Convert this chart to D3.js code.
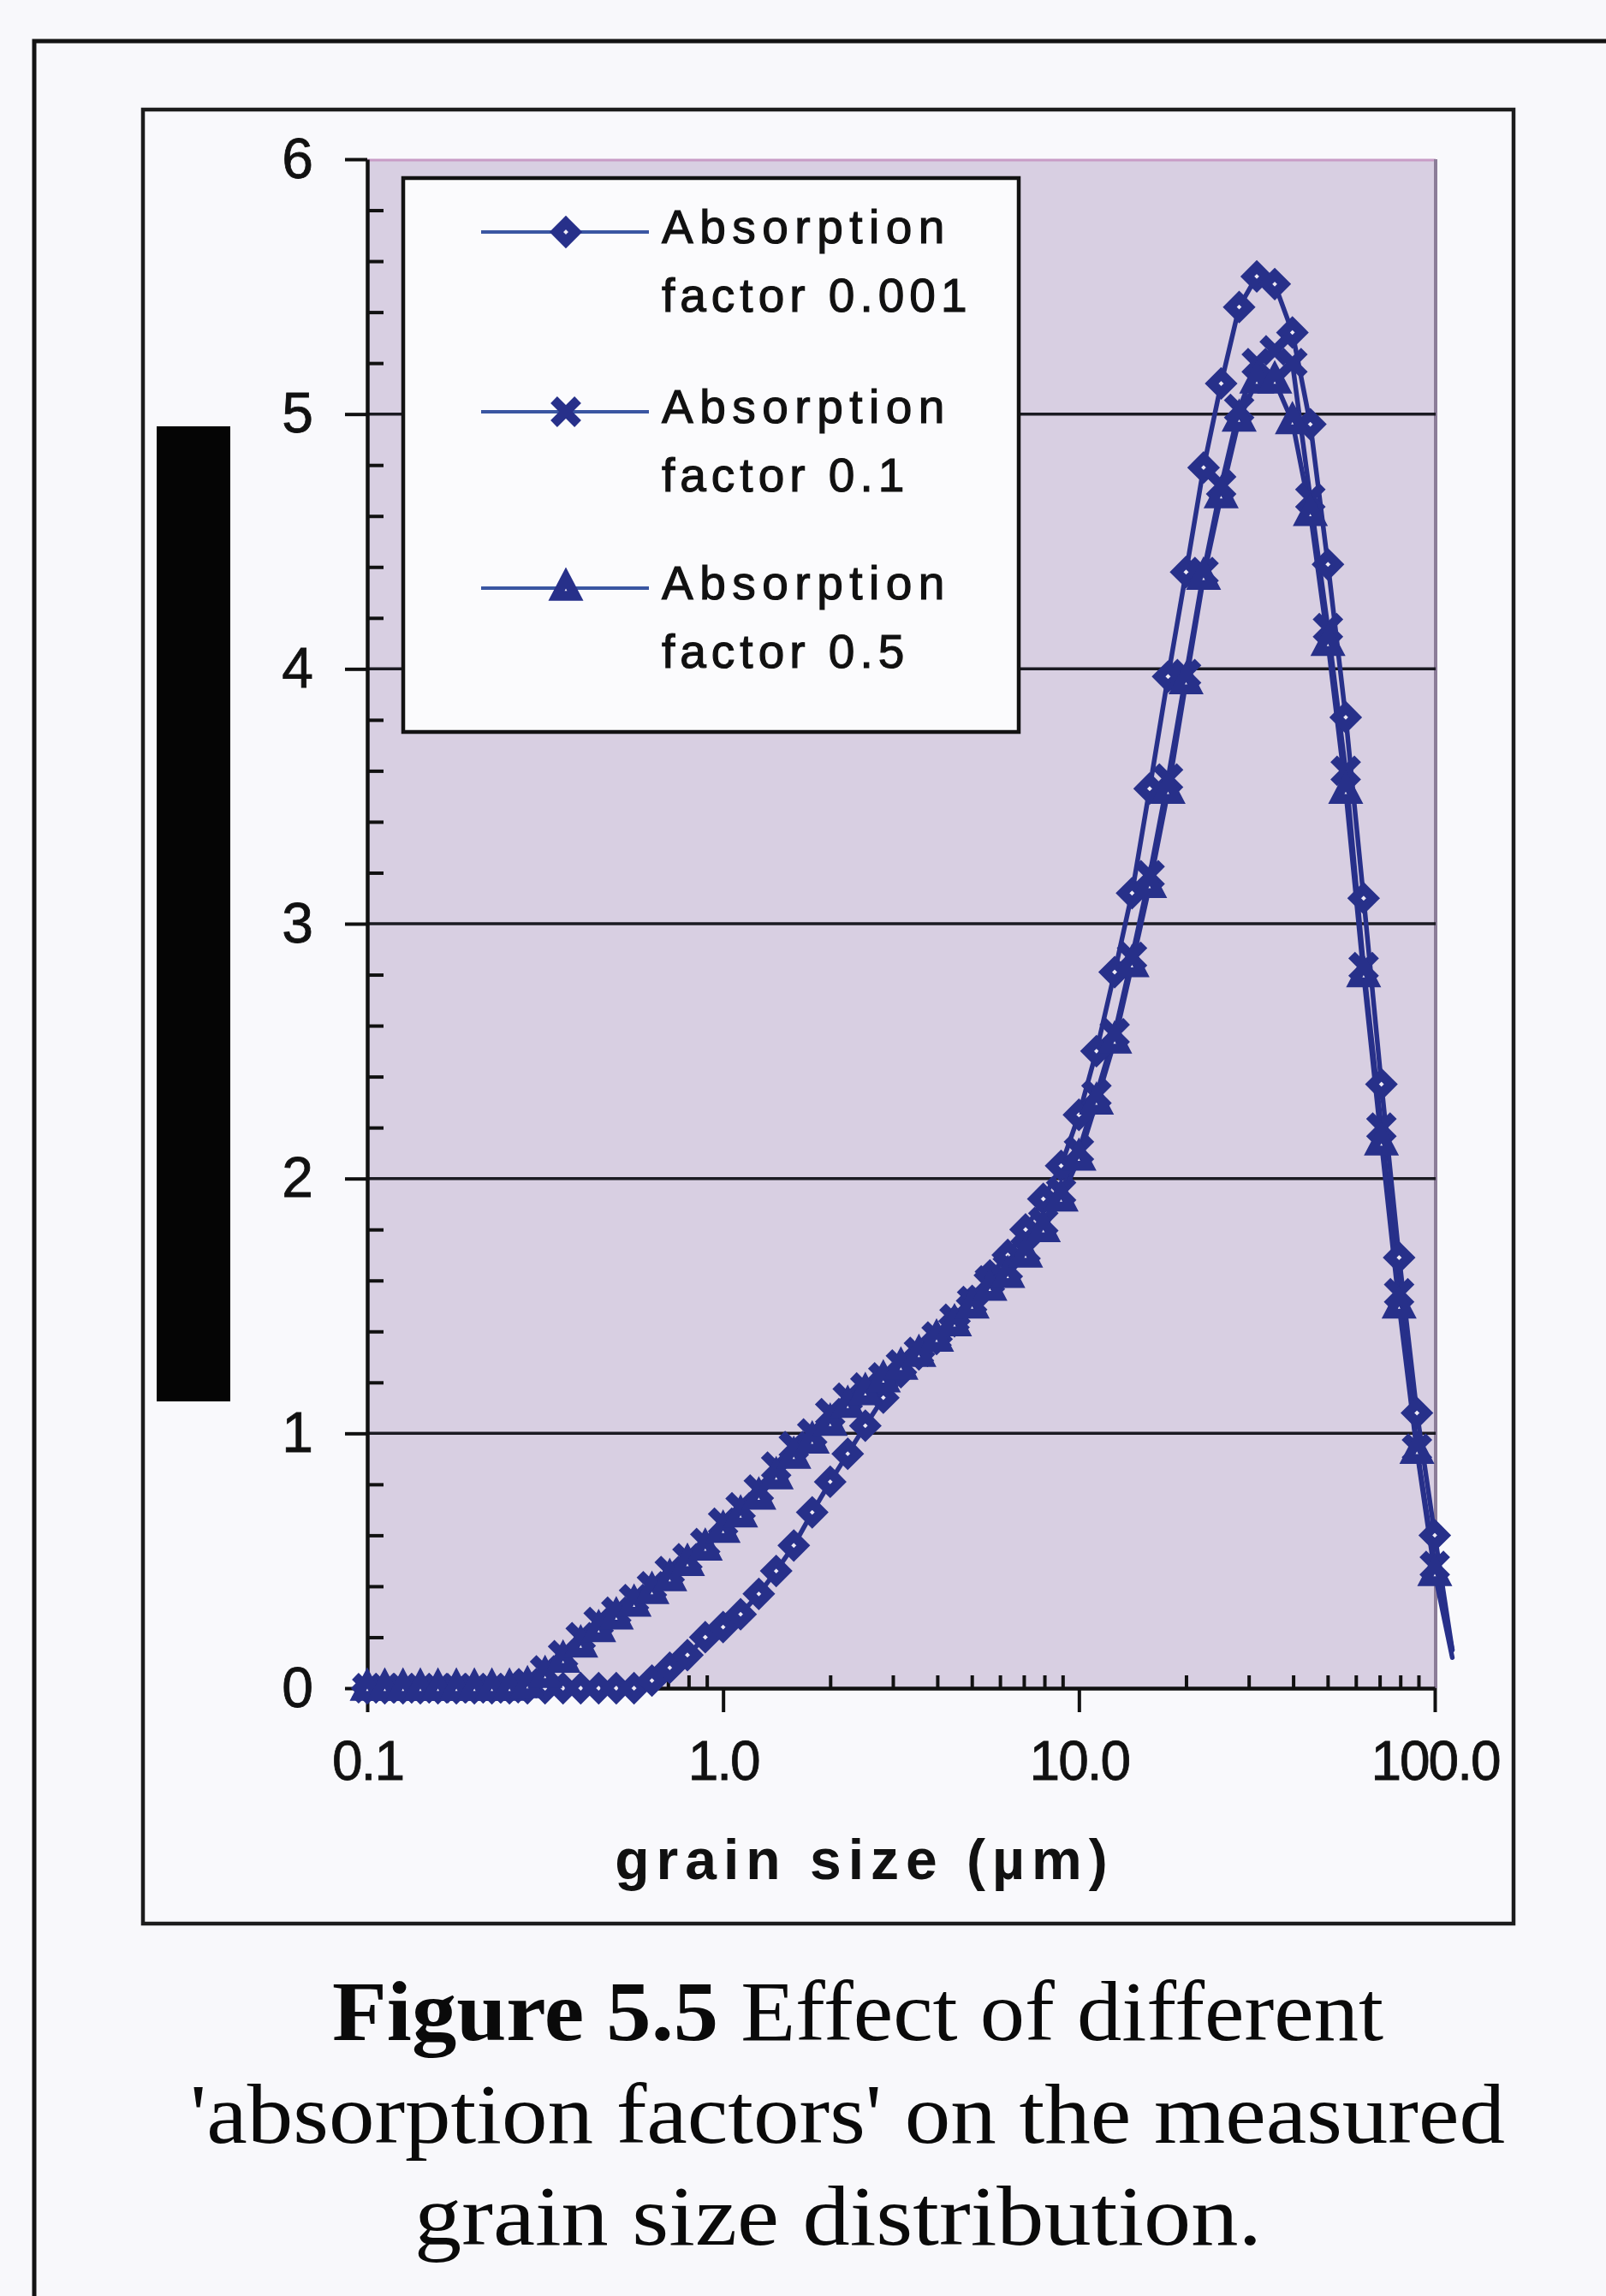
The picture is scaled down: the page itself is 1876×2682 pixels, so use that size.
<!DOCTYPE html>
<html>
<head>
<meta charset="utf-8">
<script src="https://cdn.jsdelivr.net/npm/d3@7"></script>
<style>
  html, body { margin: 0; padding: 0; background: #f8f8fb; }
  svg { display: block; }
</style>
</head>
<body>
<svg id="fig" width="1876" height="2682"></svg>
<script>
// Grain size bins (µm), log-spaced channels
const grainSize = [0.100,0.112,0.126,0.141,0.158,0.178,0.200,0.224,0.251,0.282,
  0.316,0.355,0.398,0.447,0.501,0.562,0.631,0.708,0.794,0.891,
  1.00,1.12,1.26,1.41,1.58,1.78,2.00,2.24,2.51,2.82,
  3.16,3.55,3.98,4.47,5.01,5.62,6.31,7.08,7.94,8.91,
  10.0,11.2,12.6,14.1,15.8,17.8,20.0,22.4,25.1,28.2,
  31.6,35.5,39.8,44.7,50.1,56.2,63.1,70.8,79.4,89.1,
  100,112];

// Volume % per channel for each absorption factor
const absorption0001 = [0,0,0,0,0,0,0,0,0,0,
  0,0,0,0,0,0,0.03,0.08,0.13,0.20,
  0.24,0.29,0.37,0.46,0.56,0.69,0.81,0.92,1.03,1.14,
  1.24,1.31,1.37,1.44,1.52,1.62,1.70,1.80,1.92,2.05,
  2.25,2.50,2.81,3.12,3.53,3.97,4.38,4.79,5.12,5.42,
  5.54,5.51,5.32,4.96,4.41,3.81,3.10,2.37,1.69,1.08,
  0.60,0.15];

const absorption01 = [0,0,0,0,0,0,0,0,0,0.02,
  0.07,0.13,0.20,0.26,0.30,0.35,0.40,0.46,0.51,0.57,
  0.65,0.71,0.78,0.87,0.95,1.00,1.08,1.14,1.18,1.22,
  1.27,1.32,1.38,1.45,1.52,1.60,1.65,1.72,1.83,1.95,
  2.11,2.33,2.57,2.87,3.19,3.57,3.98,4.38,4.72,5.02,
  5.20,5.25,5.20,4.67,4.16,3.60,2.83,2.20,1.55,0.94,
  0.48,0.15];

const absorption05 = [0,0,0,0,0,0,0,0,0,0.01,
  0.05,0.11,0.17,0.23,0.28,0.33,0.38,0.43,0.49,0.55,
  0.62,0.68,0.75,0.83,0.91,0.97,1.04,1.11,1.16,1.21,
  1.26,1.31,1.37,1.43,1.50,1.57,1.62,1.70,1.80,1.92,
  2.08,2.30,2.54,2.84,3.15,3.52,3.95,4.36,4.68,4.98,
  5.13,5.13,4.97,4.61,4.10,3.52,2.80,2.14,1.50,0.93,
  0.45,0.12];

const seriesNames = [["Absorption", "factor 0.001"], ["Absorption", "factor 0.1"], ["Absorption", "factor 0.5"]];
const seriesMarkers = ["diamond", "cross", "triangle"];

const xTickValues = [0.1, 1, 10, 100];
const xTickLabels = ["0.1", "1.0", "10.0", "100.0"];
const yTickValues = [0, 1, 2, 3, 4, 5, 6];
const gridValues = [1, 2, 3, 4, 5];

const captionBold = "Figure 5.5";
const captionLines = [" Effect of different", "'absorption factors' on the measured", "grain size distribution."];
const xTitle = "grain size (\u00B5m)";

// ---- layout ----
const svg = d3.select("#fig");
const plot = { left: 429, right: 1677, top: 186, bottom: 1972 };
const ink = "#27308a";
const sans = "'Liberation Sans', Arial, Helvetica, sans-serif";
const serif = "'Liberation Serif', 'Times New Roman', serif";

const x = d3.scaleLog().domain([0.1, 100]).range([plot.left, plot.right - 1]);
const y = d3.scaleLinear().domain([0, 6]).range([plot.bottom, plot.top]);

// page frames
svg.append("rect").attr("x", 40).attr("y", 48).attr("width", 2200).attr("height", 3000)
  .attr("fill", "none").attr("stroke", "#141414").attr("stroke-width", 5);
svg.append("rect").attr("x", 167).attr("y", 128).attr("width", 1601).attr("height", 2119)
  .attr("fill", "#f9f9fc").attr("stroke", "#1c1c1c").attr("stroke-width", 4.5);

// solid bar over the vertical axis title
svg.append("rect").attr("x", 183).attr("y", 498).attr("width", 86).attr("height", 1139).attr("fill", "#050505");

// plot area
svg.append("rect").attr("x", plot.left).attr("y", plot.top)
  .attr("width", plot.right - plot.left).attr("height", plot.bottom - plot.top)
  .attr("fill", "#d8cfe2");
svg.append("line").attr("x1", plot.left).attr("x2", plot.right).attr("y1", plot.top + 1).attr("y2", plot.top + 1)
  .attr("stroke", "#c89cc6").attr("stroke-width", 3);
svg.append("line").attr("x1", plot.right).attr("x2", plot.right).attr("y1", plot.top).attr("y2", plot.bottom)
  .attr("stroke", "#8c7d98").attr("stroke-width", 4);

// gridlines
svg.append("g").selectAll("line").data(gridValues).join("line")
  .attr("x1", plot.left).attr("x2", plot.right)
  .attr("y1", d => y(d)).attr("y2", d => y(d))
  .attr("stroke", "#1b1b22").attr("stroke-width", 3.5);

// y axis: major ticks outside, minor ticks inside
const yMinor = d3.range(0, 6.001, 0.2).filter(v => Math.abs(v - Math.round(v)) > 1e-6);
const yAxis = svg.append("g").attr("transform", `translate(${plot.left},0)`)
  .call(d3.axisLeft(y).tickValues(yTickValues).tickFormat(d3.format("d")).tickSize(26).tickSizeOuter(0).tickPadding(37));
svg.append("g").attr("transform", `translate(${plot.left},0)`)
  .call(d3.axisRight(y).tickValues(yMinor).tickFormat("").tickSize(19).tickSizeOuter(0))
  .call(g => g.select(".domain").remove());

// x axis: major ticks outside, minor ticks inside
const xMinor = [];
[0.1, 1, 10].forEach(dec => { for (let m = 2; m <= 9; m++) xMinor.push(+(dec * m).toPrecision(3)); });
const xAxis = svg.append("g").attr("transform", `translate(0,${plot.bottom})`)
  .call(d3.axisBottom(x).tickValues(xTickValues).tickFormat((d, i) => xTickLabels[i]).tickSize(28).tickSizeOuter(0).tickPadding(34));
svg.append("g").attr("transform", `translate(0,${plot.bottom})`)
  .call(d3.axisTop(x).tickValues(xMinor).tickFormat("").tickSize(15).tickSizeOuter(0))
  .call(g => g.select(".domain").remove());

svg.selectAll(".domain").attr("stroke", "#111").attr("stroke-width", 4.5);
svg.selectAll(".tick line").attr("stroke", "#111").attr("stroke-width", 4);
yAxis.selectAll(".tick text").attr("font-family", sans).attr("font-size", 66).attr("fill", "#111")
  .attr("stroke", "#111").attr("stroke-width", 0.8);
xAxis.selectAll(".tick text").attr("font-family", sans).attr("font-size", 64).attr("fill", "#111")
  .attr("letter-spacing", -2).attr("stroke", "#111").attr("stroke-width", 0.8);

// x axis title
svg.append("text").attr("x", 1010).attr("y", 2195).attr("text-anchor", "middle")
  .attr("font-family", sans).attr("font-weight", "bold").attr("font-size", 66)
  .attr("letter-spacing", 8).attr("fill", "#111").text(xTitle);

// marker shapes: heavy outlines with a small light centre
function markerPath(kind) {
  if (kind === "diamond") return "M0,-11L11,0L0,11L-11,0Z";
  if (kind === "triangle") return "M0,-12L11,9L-11,9Z";
  return "M-14,-14L14,14M-14,14L14,-14";
}
function drawMarker(g, kind) {
  if (kind === "cross") {
    g.append("path").attr("d", markerPath(kind)).attr("fill", "none")
      .attr("stroke", ink).attr("stroke-width", 11).attr("stroke-linecap", "butt");
  } else {
    g.append("path").attr("d", markerPath(kind)).attr("fill", "#eeeaf5")
      .attr("stroke", ink).attr("stroke-width", 11.5).attr("stroke-linejoin", "miter");
  }
}

const allSeries = [absorption0001, absorption01, absorption05];
const line = d3.line().x(d => x(d[0])).y(d => y(d[1]));

allSeries.forEach((vals, si) => {
  const pts = grainSize.map((g, i) => [g, vals[i]]);
  svg.append("path").datum(pts).attr("d", line)
    .attr("fill", "none").attr("stroke", ink).attr("stroke-width", 5.5).attr("stroke-linejoin", "round")
    .attr("stroke-linecap", "round");
});
allSeries.forEach((vals, si) => {
  const pts = grainSize.map((g, i) => [g, vals[i]]).filter(p => p[0] <= 100);
  const mg = svg.append("g");
  pts.forEach(p => {
    const g = mg.append("g").attr("transform", `translate(${x(p[0])},${y(p[1])})`);
    drawMarker(g, seriesMarkers[si]);
  });
});

// legend
const legend = svg.append("g");
legend.append("rect").attr("x", 471).attr("y", 208).attr("width", 719).attr("height", 647)
  .attr("fill", "#fbfbfd").attr("stroke", "#121212").attr("stroke-width", 4.5);
const legendRows = [271, 481, 687];
seriesNames.forEach((name, i) => {
  const ly = legendRows[i];
  legend.append("line").attr("x1", 562).attr("x2", 758).attr("y1", ly).attr("y2", ly)
    .attr("stroke", "#3a56a2").attr("stroke-width", 4);
  const g = legend.append("g").attr("transform", `translate(661,${ly})`);
  drawMarker(g, seriesMarkers[i]);
  legend.append("text").attr("x", 773).attr("y", ly + 13)
    .attr("font-family", sans).attr("font-size", 55).attr("letter-spacing", 7.5).attr("fill", "#111")
    .attr("stroke", "#111").attr("stroke-width", 1.2)
    .text(name[0]);
  legend.append("text").attr("x", 773).attr("y", ly + 93)
    .attr("font-family", sans).attr("font-size", 55).attr("letter-spacing", 6).attr("fill", "#111")
    .attr("stroke", "#111").attr("stroke-width", 1.2)
    .text(name[1]);
});

// caption
const cap1 = svg.append("text").attr("x", 1002).attr("y", 2383).attr("text-anchor", "middle")
  .attr("font-family", serif).attr("font-size", 100).attr("fill", "#0a0a0a")
  .attr("textLength", 1228).attr("lengthAdjust", "spacingAndGlyphs");
cap1.append("tspan").attr("font-weight", "bold").text(captionBold);
cap1.append("tspan").text(captionLines[0]);
svg.append("text").attr("x", 990).attr("y", 2503).attr("text-anchor", "middle")
  .attr("font-family", serif).attr("font-size", 100).attr("fill", "#0a0a0a")
  .attr("textLength", 1536).attr("lengthAdjust", "spacingAndGlyphs").text(captionLines[1]);
svg.append("text").attr("x", 979).attr("y", 2622).attr("text-anchor", "middle")
  .attr("font-family", serif).attr("font-size", 100).attr("fill", "#0a0a0a")
  .attr("textLength", 990).attr("lengthAdjust", "spacingAndGlyphs").text(captionLines[2]);
</script>
</body>
</html>
